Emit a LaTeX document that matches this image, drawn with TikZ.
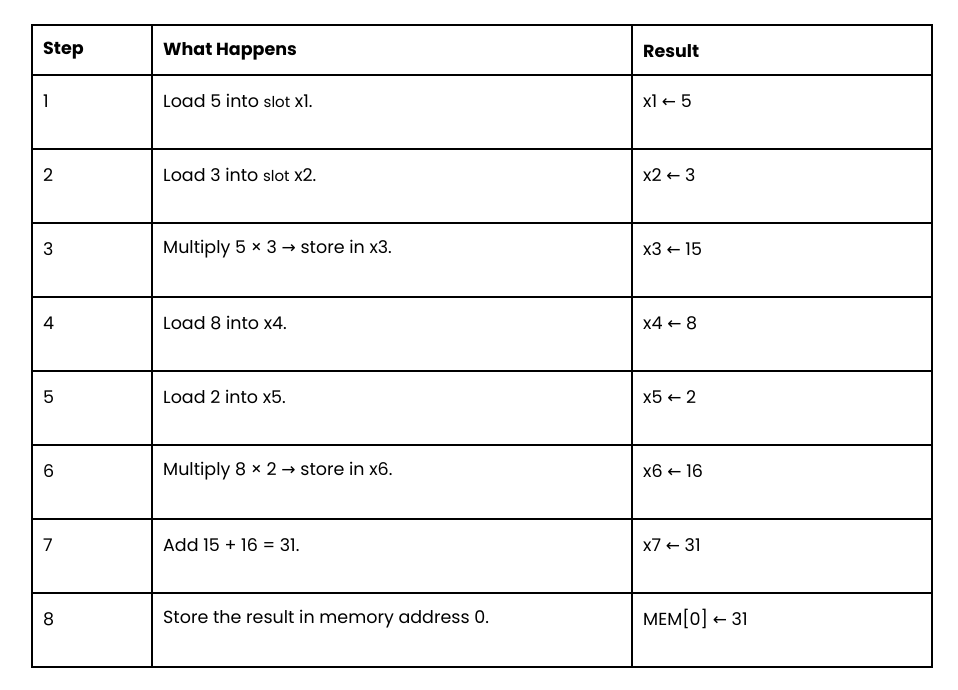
\documentclass[tikz,border=0pt]{standalone}
\usepackage{fontspec}
\setmainfont{Poppins}
\newfontfamily\symf{DejaVu Sans}
\begin{document}
\begin{tikzpicture}[x=1pt,y=-1pt,
  grid/.style={line width=1.6pt},
  cell/.style={anchor=west,font=\fontsize{17.5}{22}\selectfont,inner sep=0pt},
  head/.style={cell,font=\fontsize{17.5}{22}\selectfont\bfseries}]
\fill[white] (0,0) rectangle (958,690);
\useasboundingbox (0,0) rectangle (958,690);
\draw[grid] (32,25) rectangle (932,667);
\draw[grid] (152,25) -- (152,667);
\draw[grid] (632,25) -- (632,667);
\foreach \y in {75,149,223,297,371,445,519,593} \draw[grid] (32,\y) -- (932,\y);
\newcommand{\la}{{\symf\fontsize{17}{17}\selectfont ←}}
\newcommand{\ra}{{\symf\fontsize{17}{17}\selectfont →}}
\newcommand{\sm}[1]{{\fontsize{15}{15}\selectfont #1}}
\node[head] (h1) at (43,51) {Step};
\node[head] (h2) at (163,51) {What Happens};
\node[head] (h3) at (643,51) {Result};
\node[cell] (s1) at (43,101) {1};
\node[cell] (w1) at (163,101) {Load 5 into \sm{slot} x1.};
\node[cell] (r1) at (643,101) {x1 \la\ 5};
\node[cell] (s2) at (43,175) {2};
\node[cell] (w2) at (163,175) {Load 3 into \sm{slot} x2.};
\node[cell] (r2) at (643,175) {x2 \la\ 3};
\node[cell] (s3) at (43,249) {3};
\node[cell] (w3) at (163,249) {Multiply 5 × 3 \ra\ store in x3.};
\node[cell] (r3) at (643,249) {x3 \la\ 15};
\node[cell] (s4) at (43,323) {4};
\node[cell] (w4) at (163,323) {Load 8 into x4.};
\node[cell] (r4) at (643,323) {x4 \la\ 8};
\node[cell] (s5) at (43,397) {5};
\node[cell] (w5) at (163,397) {Load 2 into x5.};
\node[cell] (r5) at (643,397) {x5 \la\ 2};
\node[cell] (s6) at (43,471) {6};
\node[cell] (w6) at (163,471) {Multiply 8 × 2 \ra\ store in x6.};
\node[cell] (r6) at (643,471) {x6 \la\ 16};
\node[cell] (s7) at (43,545) {7};
\node[cell] (w7) at (163,545) {Add 15 + 16 = 31.};
\node[cell] (r7) at (643,545) {x7 \la\ 31};
\node[cell] (s8) at (43,619) {8};
\node[cell] (w8) at (163,619) {Store the result in memory address 0.};
\node[cell] (r8) at (643,619) {MEM[0] \la\ 31};
\end{tikzpicture}
\end{document}
